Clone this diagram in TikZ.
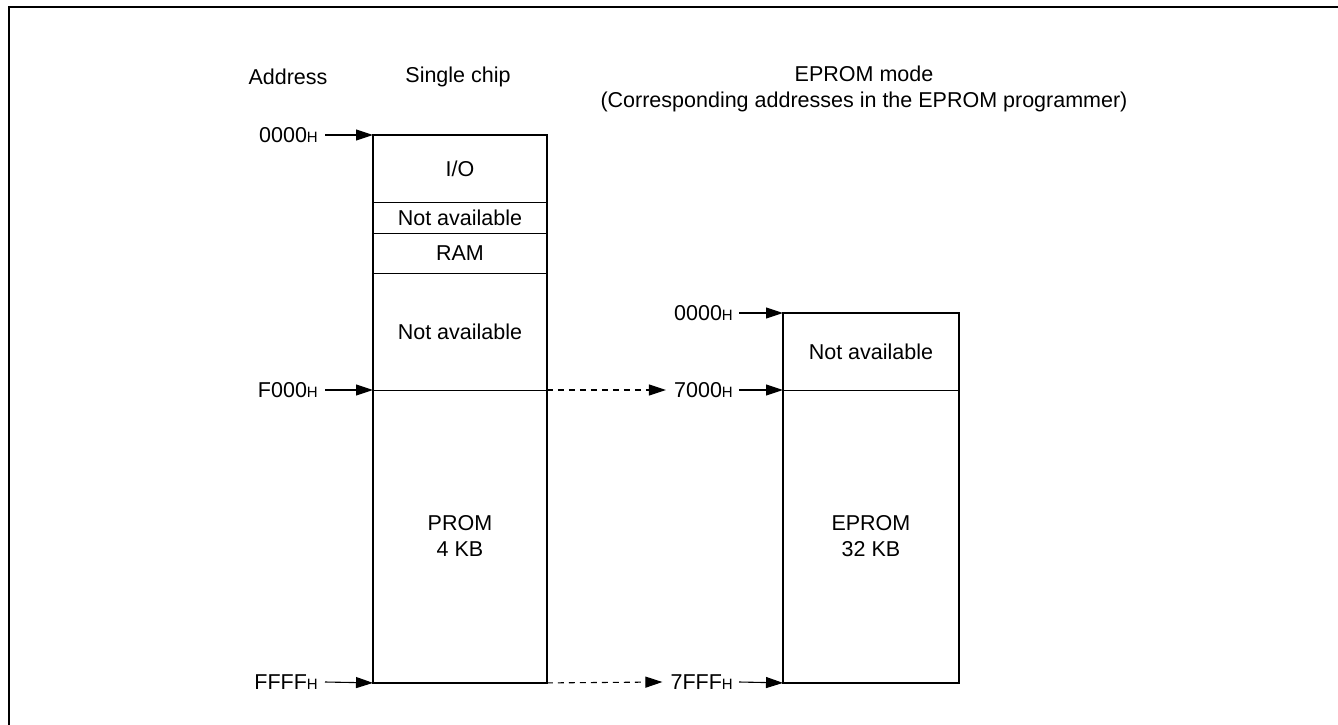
\documentclass[tikz,border=0pt]{standalone}
\usepackage{fontspec}
\setmainfont{Liberation Sans}
\usetikzlibrary{arrows.meta}
\newcommand\Hsub{{\fontsize{15}{15}\selectfont H}}
\tikzset{
  txt/.style={font=\fontsize{21.5}{26}\selectfont, inner sep=0pt, align=center},
  region/.style={draw, line width=0.9pt, minimum width=#1, inner sep=0pt, anchor=north west, font=\fontsize{21.5}{26}\selectfont, align=center},
  outer/.style={line width=2.2pt},
  addr/.style={font=\fontsize{21.5}{26}\selectfont, inner sep=0pt},
  arr/.style={line width=1.1pt, -{Triangle[length=17pt,width=11pt]}},
  darr/.style={line width=1.1pt, dash pattern=on 6pt off 5pt, -{Triangle[length=17pt,width=11pt]}}
}
\begin{document}
\begin{tikzpicture}[x=1pt,y=-1pt]
\useasboundingbox (0,0) rectangle (1338,725);
% frame
\coordinate (fbl) at (9,740);
\coordinate (ftl) at (9,7);
\coordinate (ftr) at (1350,7);
\draw[line width=2.4pt] (fbl) -- (ftl) -- (ftr);
% headings
\node[txt] (hAddr) at (288,77) {Address};
\node[txt] (hSingle) at (458,77) {Single chip};
\node[txt] (hEprom) at (864,89) {EPROM mode\\(Corresponding addresses in the EPROM programmer)};
% left column
\node[region=173pt, minimum height=67pt] (io) at (373,135) {I/O};
\node[region=173pt, minimum height=31pt] (na1) at (373,202) {Not available};
\node[region=173pt, minimum height=40pt] (ram) at (373,233) {RAM};
\node[region=173pt, minimum height=117pt] (na2) at (373,273) {Not available};
\node[region=173pt, minimum height=292pt] (prom) at (373,390) {PROM\\4 KB};
\draw[outer] (io.north west) rectangle (prom.south east);
% right column
\node[region=175pt, minimum height=77pt] (na3) at (783,313) {Not available};
\node[region=175pt, minimum height=292pt] (eprom) at (783,390) {EPROM\\32 KB};
\draw[outer] (na3.north west) rectangle (eprom.south east);
% left addresses
\node[addr, anchor=east] (l0) at (318,135) {0000\Hsub};
\node[addr, anchor=east] (l1) at (318,390) {F000\Hsub};
\node[addr, anchor=east] (l2) at (318,682) {FFFF\Hsub};
\draw[arr] ([xshift=7pt]l0.east) -- (io.north west);
\draw[arr] ([xshift=7pt]l1.east) -- (prom.north west);
\draw[arr] ([xshift=7pt]l2.east) -- (prom.south west);
% right addresses
\node[addr, anchor=east] (r0) at (733,313) {0000\Hsub};
\node[addr, anchor=east] (r1) at (733,390) {7000\Hsub};
\node[addr, anchor=east] (r2) at (733,682) {7FFF\Hsub};
\draw[arr] ([xshift=6pt]r0.east) -- (na3.north west);
\draw[arr] ([xshift=6pt]r1.east) -- (eprom.north west);
\draw[arr] ([xshift=6pt]r2.east) -- (eprom.south west);
% dashed correspondences
\draw[darr] (prom.north east) -- ([xshift=-8pt]r1.west);
\draw[darr] (prom.south east) -- ([xshift=-8pt]r2.west);
\end{tikzpicture}
\end{document}
